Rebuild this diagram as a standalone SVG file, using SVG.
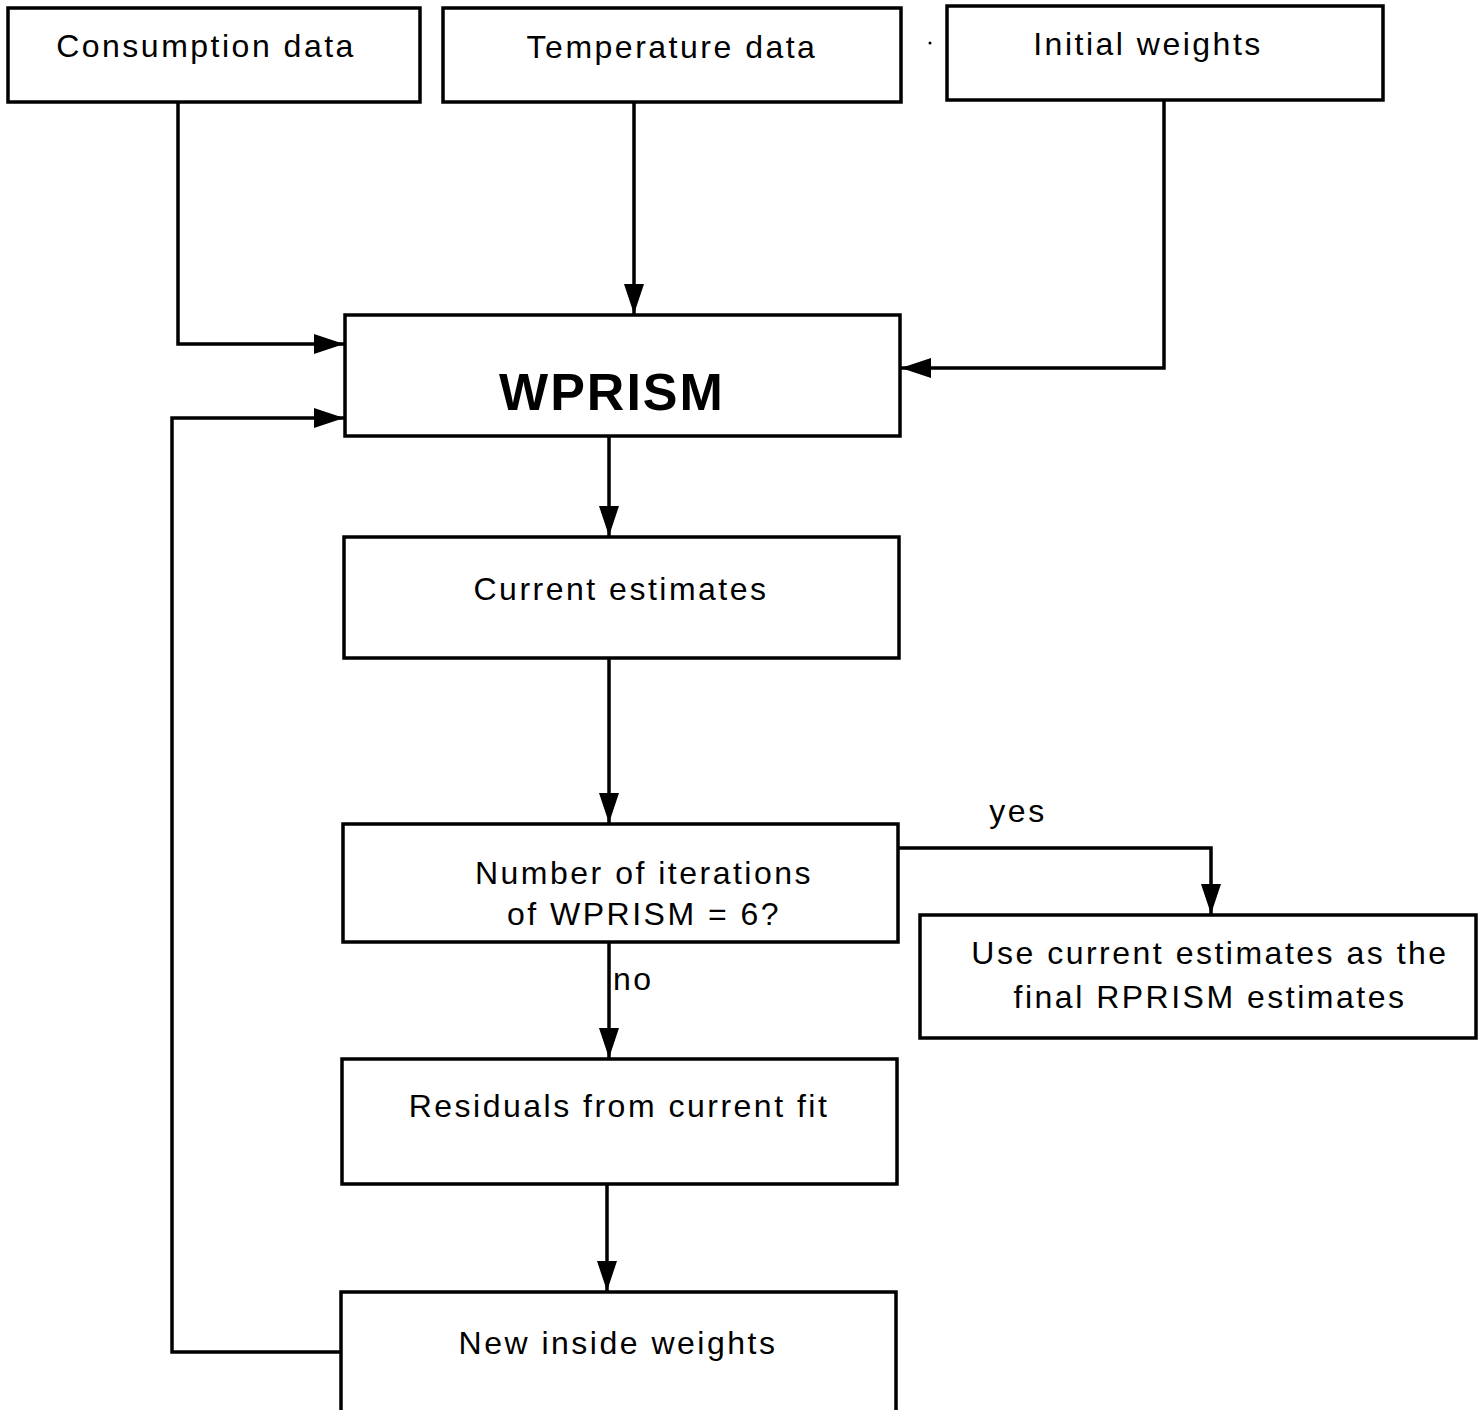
<svg xmlns="http://www.w3.org/2000/svg" width="1484" height="1410" viewBox="0 0 1484 1410">
<style>
.box{fill:#fff;stroke:#000;stroke-width:3.5}
.t{font-family:"Liberation Sans",Arial,sans-serif;font-size:32px;letter-spacing:2.5px;text-anchor:middle;fill:#000}
.b{font-family:"Liberation Sans",Arial,sans-serif;font-size:52px;font-weight:bold;letter-spacing:2px;text-anchor:middle;fill:#000}
.c{fill:none;stroke:#000;stroke-width:3.5}
</style>
<defs>
<marker id="arr" markerUnits="userSpaceOnUse" markerWidth="32" markerHeight="22" refX="30" refY="11" orient="auto">
<path d="M0,1 L30,11 L0,21 Z" fill="#000"/>
</marker>
</defs>
<rect width="1484" height="1410" fill="#fff"/>
<g id="n-consumption"><rect class="box" x="8" y="8" width="412" height="94"/><text class="t" x="206" y="57">Consumption data</text></g>
<g id="n-temperature"><rect class="box" x="443" y="8" width="458" height="94"/><text class="t" x="672" y="58">Temperature data</text></g>
<g id="n-initial"><rect class="box" x="947" y="6" width="436" height="94"/><text class="t" x="1148" y="55">Initial weights</text></g>
<g id="n-wprism"><rect class="box" x="345" y="315" width="555" height="121"/><text class="b" x="612" y="410">WPRISM</text></g>
<g id="n-current"><rect class="box" x="344" y="537" width="555" height="121"/><text class="t" x="621" y="600">Current estimates</text></g>
<g id="n-number"><rect class="box" x="343" y="824" width="555" height="118"/><text class="t" x="644" y="884">Number of iterations</text><text class="t" x="644" y="925">of WPRISM = 6?</text></g>
<g id="n-use"><rect class="box" x="920" y="915" width="556" height="123"/><text class="t" x="1210" y="964">Use current estimates as the</text><text class="t" x="1210" y="1008">final RPRISM estimates</text></g>
<g id="n-residuals"><rect class="box" x="342" y="1059" width="555" height="125"/><text class="t" x="619" y="1117">Residuals from current fit</text></g>
<g id="n-new"><rect class="box" x="341" y="1292" width="555" height="140"/><text class="t" x="618" y="1354">New inside weights</text></g>
<g id="connectors">
<polyline class="c" points="178,102 178,344 344,344" marker-end="url(#arr)"/>
<polyline class="c" points="634,102 634,314" marker-end="url(#arr)"/>
<polyline class="c" points="1164,100 1164,368 901,368" marker-end="url(#arr)"/>
<polyline class="c" points="609,436 609,536" marker-end="url(#arr)"/>
<polyline class="c" points="609,658 609,823" marker-end="url(#arr)"/>
<polyline class="c" points="898,848 1211,848 1211,914" marker-end="url(#arr)"/>
<polyline class="c" points="609,942 609,1058" marker-end="url(#arr)"/>
<polyline class="c" points="607,1184 607,1291" marker-end="url(#arr)"/>
<polyline class="c" points="341,1352 172,1352 172,418 344,418" marker-end="url(#arr)"/>
<text class="t" x="1018" y="822">yes</text>
<text class="t" x="613" y="990" style="text-anchor:start">no</text>
</g>
<circle cx="930" cy="43" r="1.5" fill="#000"/>
</svg>
